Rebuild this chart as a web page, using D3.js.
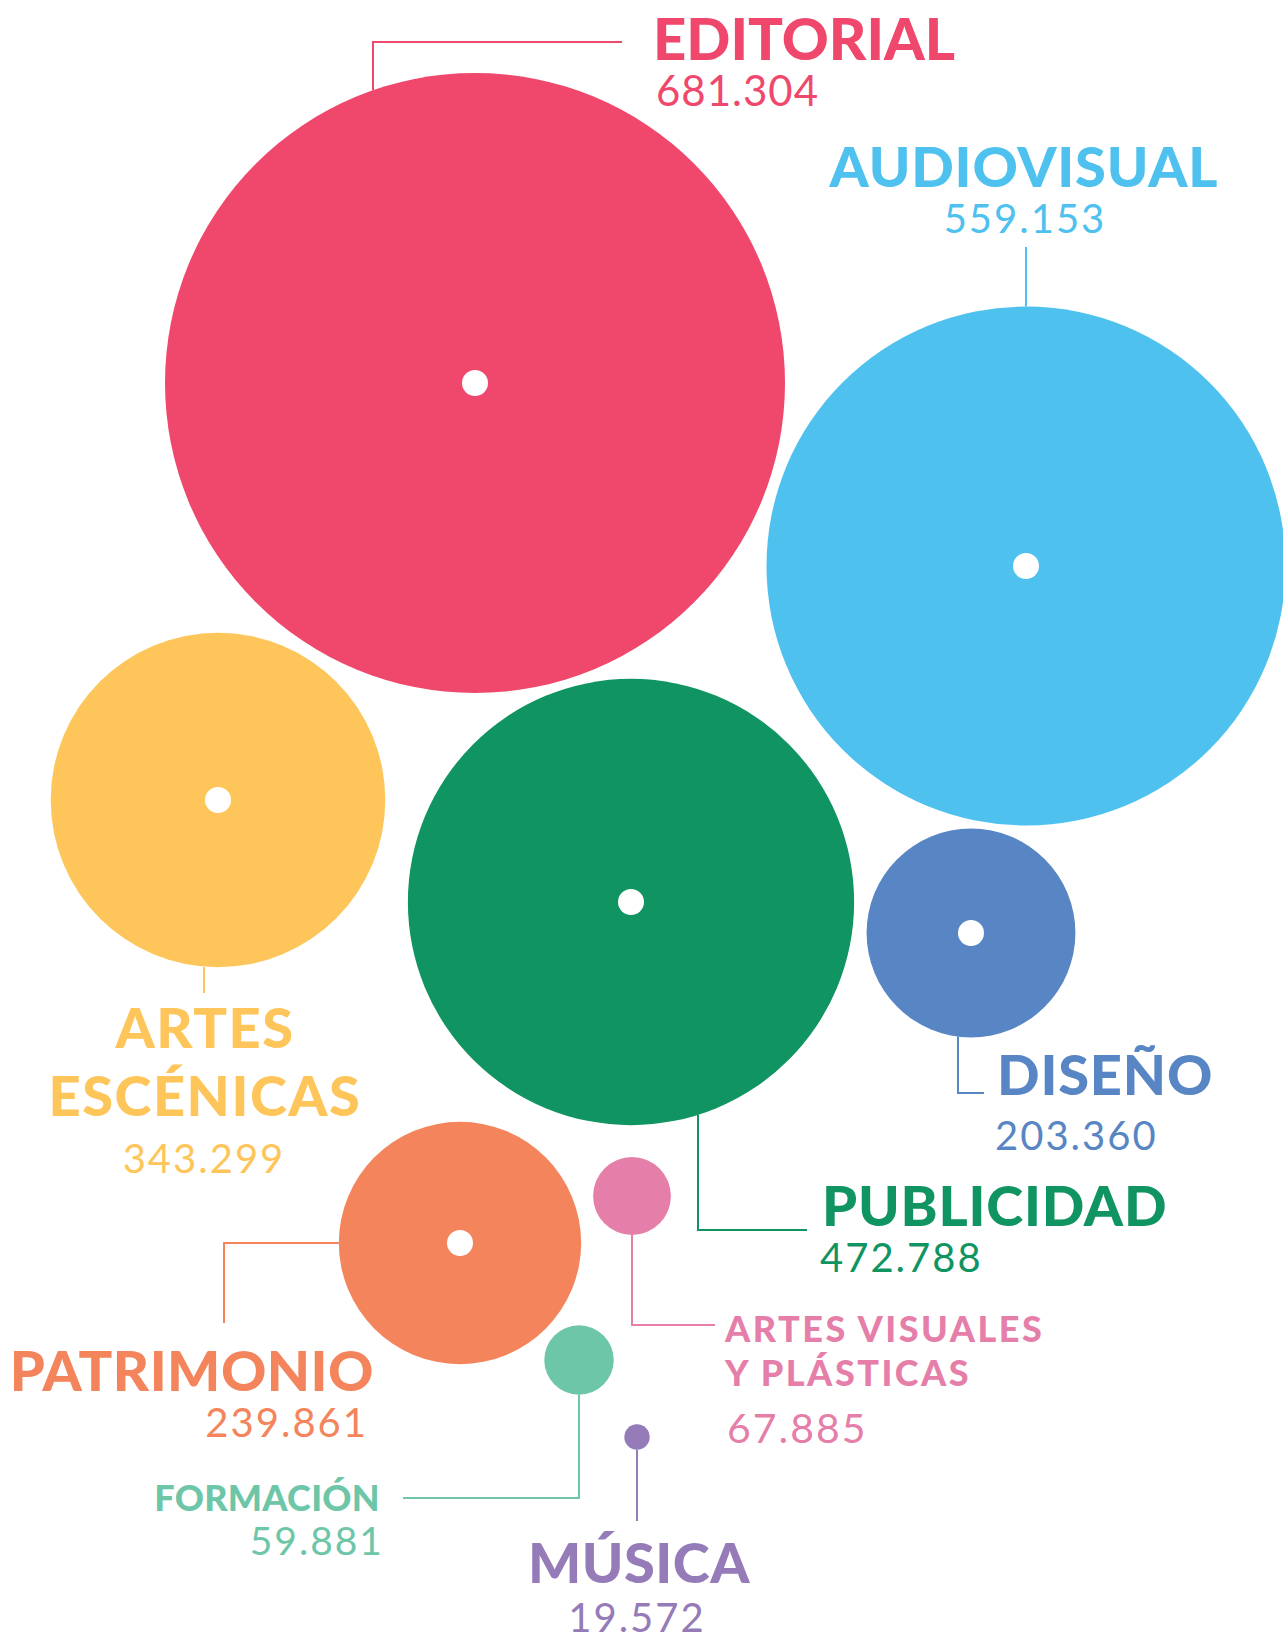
<!DOCTYPE html>
<html lang="es">
<head>
    <meta charset="UTF-8">
    <title>Sectores</title>
    <script type="text/javascript" src="https://cdn.jsdelivr.net/npm/d3@7"></script>
    <style>
        body { margin: 0; background: #fff; }
        .title { font-family: Lato, "Open Sans", sans-serif; font-weight: 900; }
        .value { font-family: Lato, "Open Sans", sans-serif; font-weight: 400; }
        .leader { fill: none; stroke-width: 2; }
    </style>
</head>
<body>
    <div id="chart"></div>

    <script type="text/javascript">

        var w = 1283,
            h = 1633;

        // data
        var categories = ["EDITORIAL", "AUDIOVISUAL", "ARTES ESCÉNICAS", "PUBLICIDAD", "DISEÑO",
                          "PATRIMONIO", "ARTES VISUALES Y PLÁSTICAS", "FORMACIÓN", "MÚSICA"];
        var values = [681304, 559153, 343299, 472788, 203360, 239861, 67885, 59881, 19572];
        var titleLines = [["EDITORIAL"], ["AUDIOVISUAL"], ["ARTES", "ESCÉNICAS"], ["PUBLICIDAD"], ["DISEÑO"],
                          ["PATRIMONIO"], ["ARTES VISUALES", "Y PLÁSTICAS"], ["FORMACIÓN"], ["MÚSICA"]];

        var colors = ["#ef486c", "#4fc1ef", "#fec55a", "#109462", "#5886c4",
                      "#f3845b", "#e57faa", "#6dc6a7", "#957bb8"];

        // hand placed layout: circle centres and label anchors
        // ts/vs = font sizes, ls/vls = letter spacing of title/value
        var layout = [
            {cx: 475, cy: 383, dot: true, tx: 653, anchor: "start", ty: [60], vx: 656, vy: 106, ts: 58, vs: 42, ls: 0, vls: 1},
            {cx: 1026, cy: 566, dot: true, tx: 1024, anchor: "middle", ty: [187], vx: 1025, vy: 233, ts: 56, vs: 40, ls: 0.8, vls: 2},
            {cx: 218, cy: 800, dot: true, tx: 205, anchor: "middle", ty: [1048, 1116], vx: 204, vy: 1173, ts: 56, vs: 40, ls: 1.5, vls: 2},
            {cx: 631, cy: 902, dot: true, tx: 822, anchor: "start", ty: [1226], vx: 820, vy: 1272, ts: 56, vs: 40, ls: 0.8, vls: 2},
            {cx: 971, cy: 933, dot: true, tx: 997, anchor: "start", ty: [1095], vx: 995, vy: 1150, ts: 56, vs: 40, ls: 0.8, vls: 2},
            {cx: 460, cy: 1243, dot: true, tx: 374, anchor: "end", ty: [1391], vx: 368, vy: 1437, ts: 56, vs: 40, ls: 0.5, vls: 2},
            {cx: 632, cy: 1196, dot: false, tx: 725, anchor: "start", ty: [1342, 1386], vx: 727, vy: 1443, ts: 36, vs: 41, ls: 2.5, vls: 2},
            {cx: 579, cy: 1360, dot: false, tx: 380, anchor: "end", ty: [1511], vx: 384, vy: 1555, ts: 36, vs: 39, ls: 0.3, vls: 2},
            {cx: 637, cy: 1437, dot: false, tx: 639, anchor: "middle", ty: [1583], vx: 637, vy: 1632, ts: 56, vs: 40, ls: 0.5, vls: 2}
        ];

        var fmt = d3.formatLocale({decimal: ",", thousands: ".", grouping: [3], currency: ["", ""]}).format(",d");

        var r = d3.scalePow()
            .exponent(0.9)
            .domain([0, d3.max(values)])
            .range([0, 310]);

        // edge of a circle at a given x (top or bottom side)
        function edgeY(i, x, side) {
            var L = layout[i], rad = r(values[i]);
            return L.cy + side * Math.sqrt(Math.max(0, rad * rad - (x - L.cx) * (x - L.cx)));
        }

        // leader lines, each starting on its circle
        var leaders = [
            function() { return d3.line()([[373, edgeY(0, 373, -1)], [373, 42], [622, 42]]); },
            function() { return d3.line()([[1026, edgeY(1, 1026, -1)], [1026, 247]]); },
            function() { return d3.line()([[204, edgeY(2, 204, 1)], [204, 993]]); },
            function() { return d3.line()([[698, edgeY(3, 698, 1)], [698, 1230], [807, 1230]]); },
            function() { return d3.line()([[958, edgeY(4, 958, 1)], [958, 1093], [984, 1093]]); },
            function() { var L = layout[5]; return d3.line()([[L.cx - r(values[5]), L.cy], [224, L.cy], [224, 1323]]); },
            function() { return d3.line()([[632, edgeY(6, 632, 1)], [632, 1325], [715, 1325]]); },
            function() { return d3.line()([[579, edgeY(7, 579, 1)], [579, 1498], [403, 1498]]); },
            function() { return d3.line()([[637, edgeY(8, 637, 1)], [637, 1521]]); }
        ];

        var svg = d3.select("#chart")
            .append("svg")
            .attr("width", w)
            .attr("height", h);

        var data = categories.map(function(c, i) {
            return {name: c, value: values[i], lines: titleLines[i], color: colors[i], L: layout[i], i: i};
        });

        // lines
        svg.selectAll(".leader")
            .data(data)
            .enter()
            .append("path")
            .attr("class", "leader")
            .attr("stroke", function(d) { return d.color; })
            .attr("d", function(d) { return leaders[d.i](); });

        // bubbles
        svg.selectAll(".bubble")
            .data(data)
            .enter()
            .append("circle")
            .attr("class", "bubble")
            .attr("cx", function(d) { return d.L.cx; })
            .attr("cy", function(d) { return d.L.cy; })
            .attr("r", function(d) { return r(d.value); })
            .attr("fill", function(d) { return d.color; });

        svg.selectAll(".dot")
            .data(data.filter(function(d) { return d.L.dot; }))
            .enter()
            .append("circle")
            .attr("class", "dot")
            .attr("cx", function(d) { return d.L.cx; })
            .attr("cy", function(d) { return d.L.cy; })
            .attr("r", 13)
            .attr("fill", "#fff");

        // labels
        var labels = svg.selectAll(".label")
            .data(data)
            .enter()
            .append("g")
            .attr("class", "label");

        labels.each(function(d) {
            var g = d3.select(this);
            d.lines.forEach(function(line, k) {
                g.append("text")
                    .attr("class", "title")
                    .attr("x", d.L.tx)
                    .attr("y", d.L.ty[k])
                    .attr("text-anchor", d.L.anchor)
                    .attr("font-size", d.L.ts + "px")
                    .style("letter-spacing", d.L.ls + "px")
                    .attr("fill", d.color)
                    .text(line);
            });
            g.append("text")
                .attr("class", "value")
                .attr("x", d.L.vx)
                .attr("y", d.L.vy)
                .attr("text-anchor", d.L.anchor)
                .attr("font-size", d.L.vs + "px")
                .style("letter-spacing", d.L.vls + "px")
                .attr("fill", d.color)
                .text(fmt(d.value));
        });
    </script>
</body>
</html>
